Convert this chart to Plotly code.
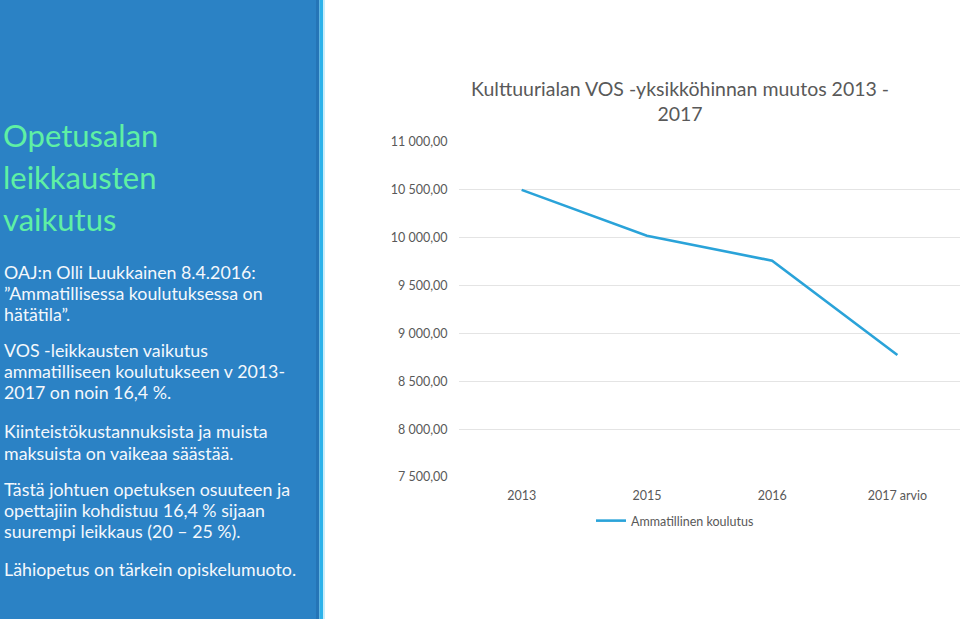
"""Slide: Opetusalan leikkausten vaikutus, with the VOS unit price line chart."""

import plotly.graph_objects as go

## data
years = ['2013', '2015', '2016', '2017 arvio']
unit_price = [10500, 10020, 9760, 8775]
series_name = 'Ammatillinen koulutus'
chart_title = 'Kulttuurialan VOS -yksikköhinnan muutos 2013 -<br>2017'

slide_title = ['Opetusalan', 'leikkausten', 'vaikutus']
slide_lines = [
    'OAJ:n Olli Luukkainen 8.4.2016:',
    '”Ammatillisessa koulutuksessa on',
    'hätätila”.',
    'VOS -leikkausten vaikutus',
    'ammatilliseen koulutukseen v 2013-',
    '2017 on noin 16,4 %.',
    'Kiinteistökustannuksista ja muista',
    'maksuista on vaikeaa säästää.',
    'Tästä johtuen opetuksen osuuteen ja',
    'opettajiin kohdistuu 16,4 % sijaan',
    'suurempi leikkaus (20 – 25 %).',
    'Lähiopetus on tärkein opiskelumuoto.',
]

## style
W, H = 960, 619
FONT = 'Lato'
GREY = '#595959'
LINE = '#2aa3d9'
title_y = [135, 177, 219]
line_y = [272, 293, 314, 350, 371, 392, 431, 453, 489, 510, 531, 569]


def py(px):
    """pixel row -> paper y"""
    return 1 - px / H


fig = go.Figure()
fig.add_trace(go.Scatter(
    x=years, y=unit_price, mode='lines', name=series_name,
    line=dict(color=LINE, width=2.6), showlegend=True,
))

## left panel
shapes = [
    dict(type='rect', xref='paper', yref='paper', x0=0, x1=316 / W, y0=0, y1=1,
         fillcolor='#2b82c5', line_width=0, layer='below'),
    dict(type='rect', xref='paper', yref='paper', x0=316 / W, x1=319.5 / W, y0=0, y1=1,
         fillcolor='#2574b6', line_width=0, layer='below'),
    dict(type='rect', xref='paper', yref='paper', x0=319.5 / W, x1=323 / W, y0=0, y1=1,
         fillcolor='#2cb2ea', line_width=0, layer='below'),
    dict(type='rect', xref='paper', yref='paper', x0=323 / W, x1=325 / W, y0=0, y1=1,
         fillcolor='#c8ecfa', line_width=0, layer='below'),
]

annotations = []
for txt, yy in zip(slide_title, title_y):
    annotations.append(dict(
        text=txt, x=1 / W, y=py(yy), xref='paper', yref='paper', xanchor='left', yanchor='middle',
        showarrow=False, font=dict(family=FONT, size=31, color='#5ff0a4')))
for txt, yy in zip(slide_lines, line_y):
    annotations.append(dict(
        text=txt, x=2 / W, y=py(yy), xref='paper', yref='paper', xanchor='left', yanchor='middle',
        showarrow=False, font=dict(family=FONT, size=17.8, color='#f4f8fc')))
annotations.append(dict(
    text=chart_title, x=680 / W, y=py(101), xref='paper', yref='paper', xanchor='center',
    yanchor='middle', showarrow=False, align='center',
    font=dict(family=FONT, size=19.5, color=GREY)))

fig.update_layout(
    width=W, height=H, margin=dict(l=0, r=0, t=0, b=0, autoexpand=False),
    paper_bgcolor='white', plot_bgcolor='white',
    separators=', ',
    font=dict(family=FONT, color=GREY, size=12),
    shapes=shapes, annotations=annotations,
    xaxis=dict(domain=[459 / W, 1], range=[-0.5, 3.5], showgrid=False, zeroline=False,
               showline=False, ticks='outside', ticklen=7, tickcolor='rgba(0,0,0,0)',
               tickfont=dict(size=12.5, color=GREY)),
    yaxis=dict(domain=[py(477), py(142)], range=[7500, 11000], dtick=500, tickformat=',.2f',
               showgrid=True, gridcolor='#e4e4e4', gridwidth=1, zeroline=False, showline=False,
               ticks='outside', ticklen=8, tickcolor='rgba(0,0,0,0)',
               tickfont=dict(size=12.5, color=GREY)),
    legend=dict(orientation='h', x=591 / W, y=py(521), xanchor='left', yanchor='middle',
                font=dict(size=12.5, color=GREY), bgcolor='rgba(0,0,0,0)', itemwidth=30),
)

## pin the figure to the top-left corner of the page
pin = ("document.body.style.margin='0';document.body.style.overflow='hidden';"
       "var d=document.getElementById('{plot_id}');"
       "d.style.position='fixed';d.style.top='0';d.style.left='0';")
fig.write_html('out.html', config=dict(displayModeBar=False), post_script=pin)
